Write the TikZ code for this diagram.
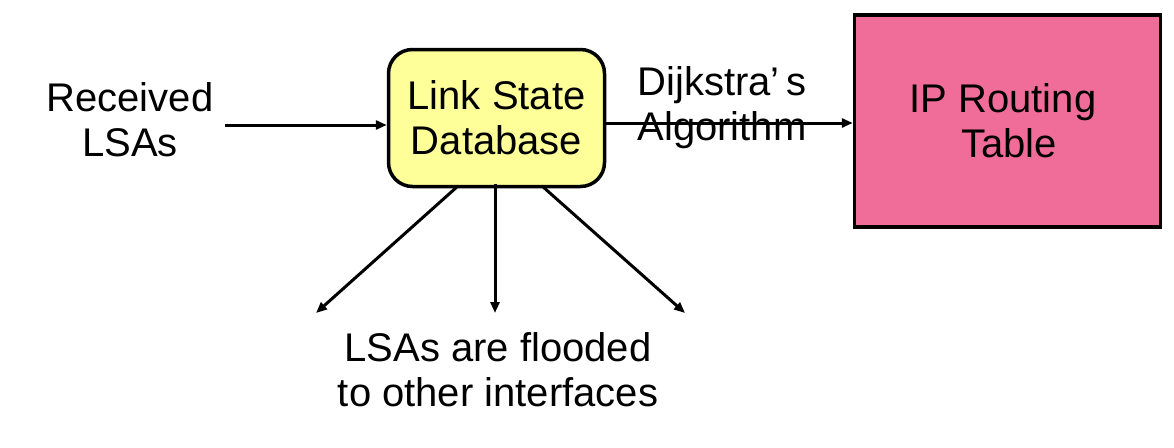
\documentclass[tikz,border=0pt]{standalone}
\usepackage{fontspec}
\setmainfont{Liberation Sans}
\usetikzlibrary{arrows.meta}
\definecolor{dbyellow}{HTML}{FFFF99}
\definecolor{rtpink}{HTML}{F06C99}
\begin{document}
\begin{tikzpicture}[x=1pt,y=-1pt,
  lbl/.style={font=\fontsize{40}{45}\selectfont, align=center, inner sep=0pt},
  conn/.style={line width=3pt, -{Triangle[length=11pt,width=9pt]}},
  boxline/.style={draw=black, line width=3.5pt}]
\useasboundingbox (0,0) rectangle (1174,447);
\fill[white] (0,0) rectangle (1174,447);
% nodes
\node[boxline, fill=dbyellow, rounded corners=24pt, minimum width=216pt, minimum height=137pt, lbl] (db) at (496.5,118) {Link State\\Database};
\node[boxline, fill=rtpink, minimum width=306pt, minimum height=212pt, inner sep=0pt] (rt) at (1007.5,121) {};
\node[lbl] (rtlabel) at (1003,121) {IP Routing\\\hspace*{12pt}Table};
\node[lbl] (rec) at (130,120) {Received\\LSAs};
\node[lbl] (dij) at (722,108) {Dijkstra’\kern7pt s\\Algorithm};
\node[lbl] (flood) at (498,370) {LSAs are flooded\\to other interfaces};
% connector end points
\coordinate (inpt) at (225,125);
\coordinate (fl) at (316,313);
\coordinate (fm) at (495,313);
\coordinate (fr) at (685,313);
\coordinate (sl) at (458,186);
\coordinate (sm) at (495,184);
\coordinate (sr) at (542,186);
% connectors
\draw[conn] (inpt) -- (inpt -| db.west);
\draw[conn] (db.east |- 0,123) -- (rt.west |- 0,123);
\draw[conn] (sl) -- (fl);
\draw[conn] (sm) -- (fm);
\draw[conn] (sr) -- (fr);
\end{tikzpicture}
\end{document}
